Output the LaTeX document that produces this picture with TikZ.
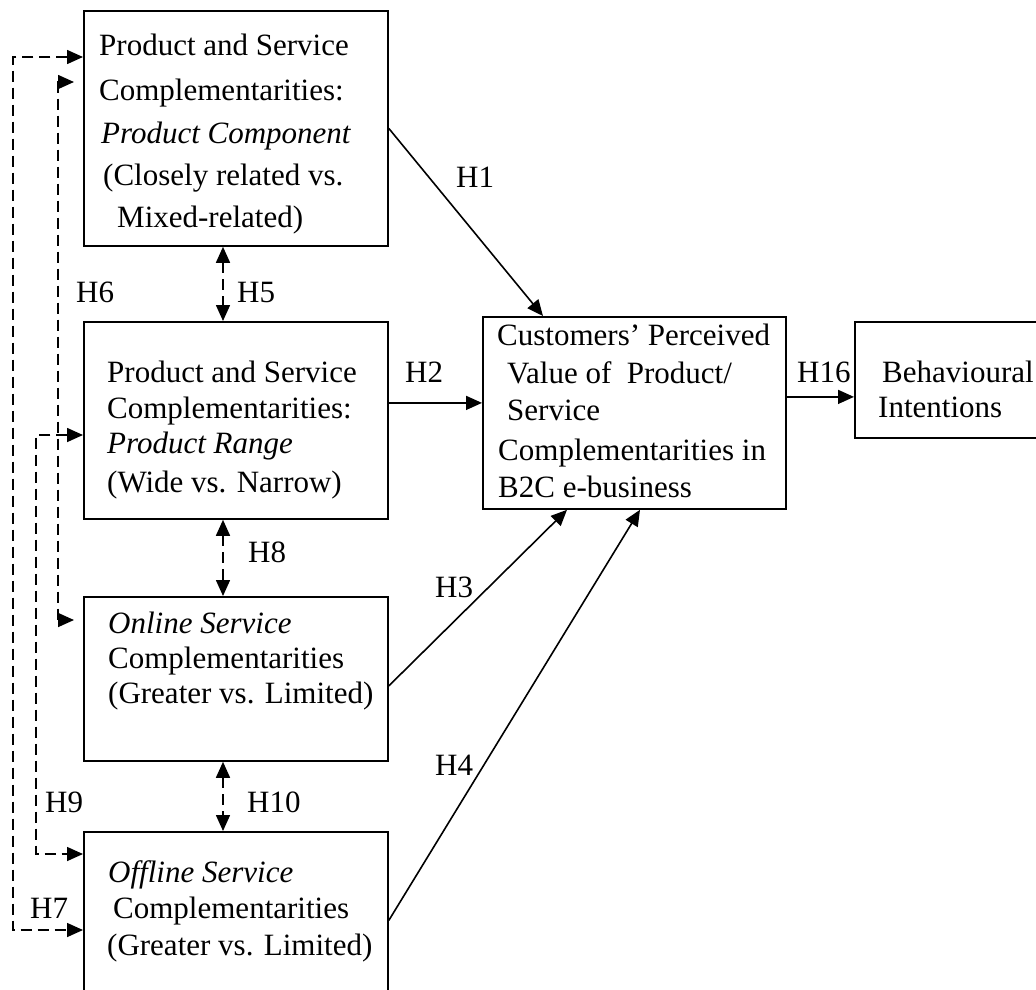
\documentclass[tikz,border=0pt]{standalone}
\usepackage{fontspec}
\setmainfont{Liberation Serif}
\usetikzlibrary{arrows.meta,calc}
\begin{document}
\begin{tikzpicture}[x=1pt,y=-1pt,
 box/.style={draw,line width=1.8pt,rectangle,inner sep=0pt,anchor=north west},
 txt/.style={anchor=base west,inner sep=0pt,font=\fontsize{31}{37}\selectfont},
 arr/.style={line width=1.6pt,-{Triangle[length=16pt,width=14pt]}},
 darr/.style={line width=1.6pt,dash pattern=on 11pt off 6pt,{Triangle[length=16pt,width=14pt]}-{Triangle[length=16pt,width=14pt]}}]
\path[use as bounding box, clip] (0,0) rectangle (1036,989);

% boxes
\node[box,minimum width=304pt,minimum height=235pt] (A) at (83,10) {};
\node[box,minimum width=304pt,minimum height=197pt] (B) at (83,321) {};
\node[box,minimum width=304pt,minimum height=164pt] (C) at (83,596) {};
\node[box,minimum width=304pt,minimum height=177pt] (D) at (83,831) {};
\node[box,minimum width=303pt,minimum height=192pt] (E) at (482,316) {};
\node[box,minimum width=200pt,minimum height=116pt] (F) at (854,321) {};

% texts
\node[txt] (a1) at (99,55) {Product and Service};
\node[txt] (a2) at (99,100) {Complementarities:};
\node[txt] (a3) at (101,143) {\itshape Product Component};
\node[txt] (a4) at (103,185) {(Closely related vs.};
\node[txt] (a5) at (117,227) {Mixed-related)};

\node[txt] (b1) at (107,382) {Product and Service};
\node[txt] (b2) at (107,418) {Complementarities:};
\node[txt] (b3) at (107,453) {\itshape Product Range};
\node[txt] (b4) at (107,492) {(Wide vs. Narrow)};

\node[txt] (c1) at (108,633) {\itshape Online Service};
\node[txt] (c2) at (108,668) {Complementarities};
\node[txt] (c3) at (108,703) {(Greater vs. Limited)};

\node[txt] (d1) at (108,882) {\itshape Offline Service};
\node[txt] (d2) at (113,918) {Complementarities};
\node[txt] (d3) at (107,955) {(Greater vs. Limited)};

\node[txt] (e1) at (497,345) {Customers’ Perceived};
\node[txt] (e2) at (507,383) {Value of~ Product/};
\node[txt] (e3) at (507,420) {Service};
\node[txt] (e4) at (498,460) {Complementarities in};
\node[txt] (e5) at (498,497) {B2C e-business};

\node[txt] (f1) at (882,382) {Behavioural};
\node[txt] (f2) at (878,417) {Intentions};

% labels
\node[txt] (H1) at (456,187) {H1};
\node[txt] (H2) at (405,382) {H2};
\node[txt] (H3) at (435,597) {H3};
\node[txt] (H4) at (435,775) {H4};
\node[txt] (H5) at (237,302) {H5};
\node[txt] (H6) at (76,302) {H6};
\node[txt] (H7) at (30,918) {H7};
\node[txt] (H8) at (248,562) {H8};
\node[txt] (H9) at (45,812) {H9};
\node[txt] (H10) at (247,812) {H10};
\node[txt] (H16) at (797,382) {H16};

% solid connectors
\coordinate (h2s) at ([yshift=17.5pt]B.east);
\coordinate (h16s) at ([yshift=16pt]E.east);
\draw[arr] (A.east) -- ([xshift=61pt]E.north west);
\draw[arr] (h2s) -- (h2s -| E.west);
\draw[arr] ([yshift=-7pt]C.east) -- ([xshift=85pt]E.south west);
\draw[arr] (D.east) -- ([xshift=158pt]E.south west);
\draw[arr] (h16s) -- (h16s -| F.west);

% dashed vertical double arrows
\draw[darr] ([xshift=140pt]A.south west) -- ([xshift=140pt]B.north west);
\draw[darr] ([xshift=140pt]B.south west) -- ([xshift=140pt]C.north west);
\draw[darr] ([xshift=140pt]C.south west) -- ([xshift=140pt]D.north west);

% left dashed connectors
\coordinate (l7) at (13,930);
\draw[darr] ([yshift=-47pt]A.north west) -| (l7) -- ([yshift=-99pt]D.north west);

\coordinate (t6a) at (74,82);
\coordinate (c6a) at (58,82);
\coordinate (c6b) at (58,620);
\coordinate (t6b) at (74,620);
\draw[darr] (t6a) -- (c6a) -- (c6b) -- (t6b);

\coordinate (l9) at (36,854);
\draw[darr] ([yshift=-114pt]B.north west) -| (l9) -- ([yshift=-23pt]D.north west);
\end{tikzpicture}
\end{document}
